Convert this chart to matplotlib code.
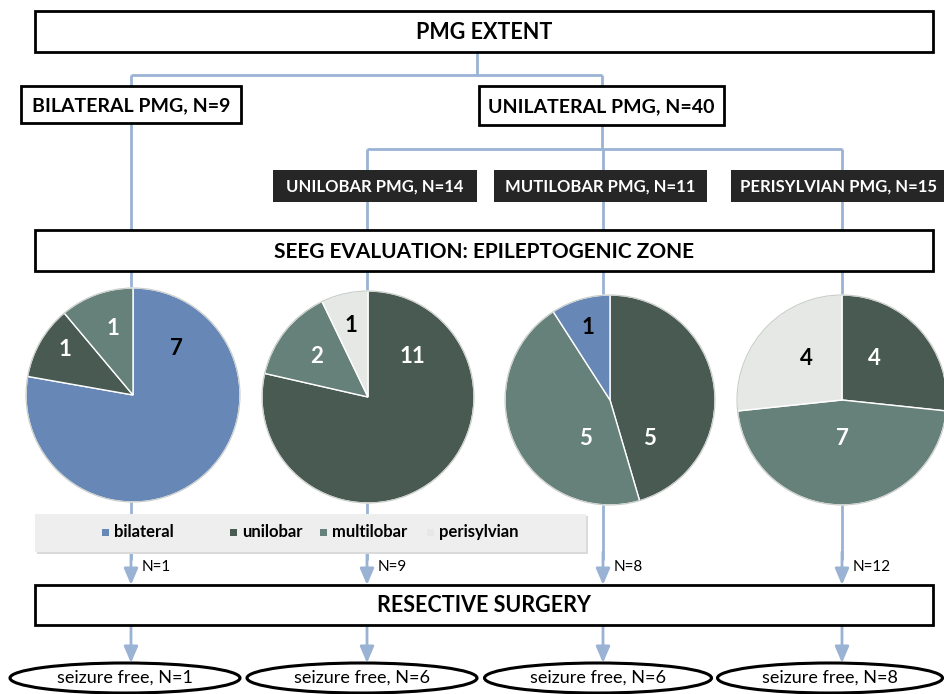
import matplotlib
matplotlib.use('Agg')
import matplotlib.pyplot as plt
from matplotlib.patches import Rectangle, Ellipse, FancyArrowPatch, Circle

plt.rcParams['font.family'] = ['Lato', 'DejaVu Sans']

# ---- data ----
categories = ['bilateral', 'unilobar', 'multilobar', 'perisylvian']
cat_colors = ['#6787B6', '#485A52', '#66807A', '#E6E8E6']
cat_text = ['black', 'white', 'white', 'black']

top_label = 'PMG EXTENT'
level1_labels = ['BILATERAL PMG, N=9', 'UNILATERAL PMG, N=40']
level2_labels = ['UNILOBAR PMG, N=14', 'MUTILOBAR PMG, N=11', 'PERISYLVIAN PMG, N=15']
seeg_label = 'SEEG EVALUATION: EPILEPTOGENIC ZONE'
surgery_label = 'RESECTIVE SURGERY'

# epileptogenic zone per group (wedge order as drawn, clockwise from top)
pie_cats = [['bilateral', 'unilobar', 'multilobar'],
            ['unilobar', 'multilobar', 'perisylvian'],
            ['unilobar', 'multilobar', 'bilateral'],
            ['unilobar', 'multilobar', 'perisylvian']]
pie_vals = [[7, 1, 1],
            [11, 2, 1],
            [5, 5, 1],
            [4, 7, 4]]
surgery_n = [1, 9, 8, 12]
seizure_free_n = [1, 6, 6, 8]

# ---- layout (pixels, y downwards) ----
W, H = 944, 694
col_x = [131, 367, 603, 842]
pie_centers = [(133, 395), (368, 397), (610, 400), (842, 400)]
pie_radius = [107, 106, 105, 105]
# label offsets from the pie centre, same order as pie_vals
label_off = [[(43, -47), (-68, -46), (-20, -67)],
             [(44, -41), (-51, -41), (-17, -72)],
             [(39, 38), (-25, 38), (-22, -73)],
             [(32, -42), (0, 38), (-36, -42)]]
oval_x = [125, 362, 598, 830]
oval_w = [230, 230, 227, 225]

LINE = '#9AB3D5'

fig = plt.figure(figsize=(W / 100, H / 100), dpi=100)
ax = fig.add_axes([0, 0, 1, 1])


def box(x0, y0, x1, y1, text, fs, dark=False, z=3):
    fc = '#262626' if dark else 'white'
    ec = '#262626' if dark else 'black'
    ax.add_patch(Rectangle((x0, y0), x1 - x0, y1 - y0, facecolor=fc,
                           edgecolor=ec, linewidth=0 if dark else 2, zorder=z))
    ax.text((x0 + x1) / 2, (y0 + y1) / 2 + 1, text, ha='center', va='center',
            fontsize=fs, fontweight='bold', color='white' if dark else 'black',
            zorder=z + 1)


def line(xs, ys, z=1):
    ax.plot(xs, ys, color=LINE, linewidth=2, zorder=z, solid_capstyle='butt')


def arrow(x, y0, y1):
    ax.add_patch(FancyArrowPatch((x, y0), (x, y1), arrowstyle='-|>,head_length=0.7,head_width=0.3',
                                 mutation_scale=14, color=LINE, linewidth=2,
                                 shrinkA=0, shrinkB=0, zorder=2))


# connectors
line([477, 477], [52, 75])
line([131, 602], [75, 75])
line([131, 131], [75, 230])
line([602, 602], [75, 149])
line([367, 842], [149, 149])
for x in col_x[1:]:
    line([x, x], [149, 230])

# boxes
box(35, 11, 933, 52, top_label, 15.5)
box(21, 86, 241, 123, level1_labels[0], 14)
box(479, 86, 724, 125, level1_labels[1], 14)
box(273, 170, 477, 202, level2_labels[0], 12, dark=True)
box(494, 170, 707, 202, level2_labels[1], 12, dark=True)
box(731, 170, 947, 202, level2_labels[2], 12, dark=True)
box(35, 230, 933, 271, seeg_label, 15)
box(35, 585, 933, 625, surgery_label, 15.5)

# vertical lines behind the pies down to surgery
for i, x in enumerate(col_x):
    line([x, x], [271, 560], z=1)
    arrow(x, 552, 585)
    ax.text(x + 11, 567, f'N={surgery_n[i]}', ha='left', va='center', fontsize=11, zorder=5)

# pies
for i in range(4):
    cx, cy = pie_centers[i]
    cols = [cat_colors[categories.index(c)] for c in pie_cats[i]]
    ax.pie(pie_vals[i], colors=cols, startangle=-90, counterclock=True,
           radius=pie_radius[i], center=(cx, cy), frame=True,
           wedgeprops=dict(edgecolor='white', linewidth=1.0, zorder=3))
    ax.add_patch(Circle((cx, cy), pie_radius[i], facecolor='none', edgecolor='#C8CCC8',
                        linewidth=0.8, zorder=3.5))
    for j, v in enumerate(pie_vals[i]):
        dx, dy = label_off[i][j]
        ax.text(cx + dx, cy + dy, str(v), ha='center', va='center', fontsize=16,
                fontweight='bold', color=cat_text[categories.index(pie_cats[i][j])], zorder=6)

# legend
ax.add_patch(Rectangle((37, 516), 551, 38, facecolor='#DADADA', edgecolor='none', zorder=4))
ax.add_patch(Rectangle((35, 514), 551, 38, facecolor='#EEEEEE', edgecolor='none', zorder=4.1))
leg_x = [102, 230, 320, 427]
for k, c in enumerate(categories):
    ax.add_patch(Rectangle((leg_x[k], 529), 7, 7, facecolor=cat_colors[k],
                           edgecolor='none', zorder=5))
    ax.text(leg_x[k] + 12, 532, c, ha='left', va='center', fontsize=12,
            fontweight='bold', zorder=5)

# outcome arrows and ovals
for i, x in enumerate(col_x):
    arrow(x, 625, 663)
    ax.add_patch(Ellipse((oval_x[i], 678), oval_w[i], 30, facecolor='white',
                         edgecolor='black', linewidth=2.2, zorder=3))
    ax.text(oval_x[i], 678, f'seizure free, N={seizure_free_n[i]}', ha='center',
            va='center', fontsize=13, zorder=4)

ax.set_xlim(0, W)
ax.set_ylim(H, 0)
ax.set_aspect('auto')
ax.axis('off')

fig.savefig('out.png', dpi=100)
